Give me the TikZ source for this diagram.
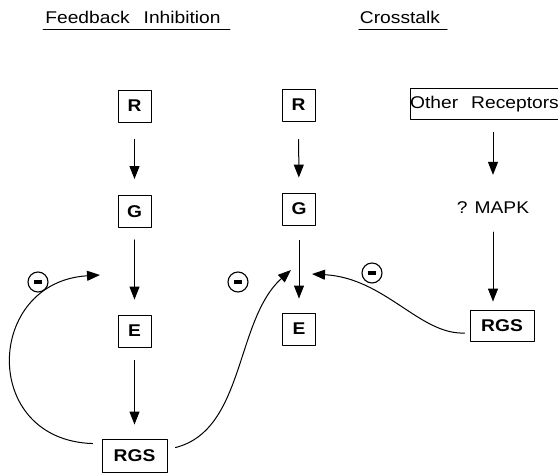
\documentclass[tikz,border=0pt]{standalone}
\usepackage{fontspec}
\setmainfont[FakeStretch=1.13]{Liberation Sans}
\usetikzlibrary{arrows.meta}

\begin{document}
\begin{tikzpicture}[x=1pt,y=-1pt,line cap=round,line join=round,>={Triangle[length=13pt,width=10pt]},
  every node/.style={font=\fontsize{17}{20}\selectfont},
  box/.style={draw,line width=0.9pt,minimum width=33pt,minimum height=32pt,inner sep=0pt,font=\fontsize{17}{20}\selectfont\bfseries},
  minus/.style={draw,circle,line width=1.1pt,minimum size=20pt,inner sep=0pt},
  flow/.style={->,line width=1pt}]
\useasboundingbox (0,0) rectangle (558,474);
\node[inner sep=0pt] (hdrL) at (133,17) {Feedback\hspace{14pt}Inhibition};
\node[inner sep=0pt] (hdrR) at (400,17) {Crosstalk};
\draw [line width=1pt] ([shift={(-2pt,-6pt)}]hdrL.base west) -- ([shift={(9pt,-6pt)}]hdrL.base east);
\draw [line width=1pt] ([shift={(-1pt,-6pt)}]hdrR.base west) -- ([shift={(7pt,-6pt)}]hdrR.base east);
\node[box] (rL) at (134.5,106) {R};
\node[box] (gL) at (134.5,211.5) {G};
\node[box] (eL) at (134.5,331) {E};
\node[box,minimum width=65pt,minimum height=33pt] (rgsL) at (134.5,455.5) {RGS};
\node[box] (rM) at (298.5,105) {R};
\node[box] (gM) at (299,209) {G};
\node[box] (eM) at (299,329) {E};
\node[box,minimum width=144pt,minimum height=31pt,font=\fontsize{17}{20}\selectfont] (oth) at (484.5,104) {Other\hspace{13pt}Receptors};
\node[inner sep=0pt] (mapk) at (493,208) {? MAPK};
\node[box,minimum width=64pt,minimum height=31pt] (rgsR) at (502,325.5) {RGS};
\coordinate (fbL) at (100,275);
\coordinate (fbM) at (291,270);
\coordinate (ctM) at (312,274);
\draw [flow,shorten <=17pt,shorten >=16pt] (rL) -- (gL);
\draw [flow,shorten <=12pt,shorten >=15pt] (gL) -- (eL);
\draw [flow,shorten <=13pt,shorten >=14pt] (eL) -- (rgsL);
\draw [flow,shorten <=18pt,shorten >=15pt] (rM) -- (gM);
\draw [flow,shorten <=15pt,shorten >=14pt] (gM) -- (eM);
\draw [flow,shorten <=12.5pt,shorten >=27pt] (oth.south -| mapk) -- (mapk);
\draw [flow,shorten <=18pt,shorten >=8pt] (mapk) -- (mapk |- rgsR.north);
\draw [flow] ([shift={(-9pt,-5pt)}]rgsL.north west) .. controls (-20,440) and (-15,282) .. (fbL);
\draw [flow] ([shift={(8pt,-9pt)}]rgsL.north east) .. controls (245,430) and (235,320) .. (fbM);
\draw [flow] ([shift={(-5pt,-7.5pt)}]rgsR.west) .. controls (420,335) and (385,278) .. (ctM);
\node[minus] (mL) at (38,282) {\rule{8pt}{3.5pt}};
\node[minus] (mM) at (238,282) {\rule{8pt}{3.5pt}};
\node[minus] (mR) at (372,273) {\rule{8pt}{3.5pt}};
\end{tikzpicture}
\end{document}
